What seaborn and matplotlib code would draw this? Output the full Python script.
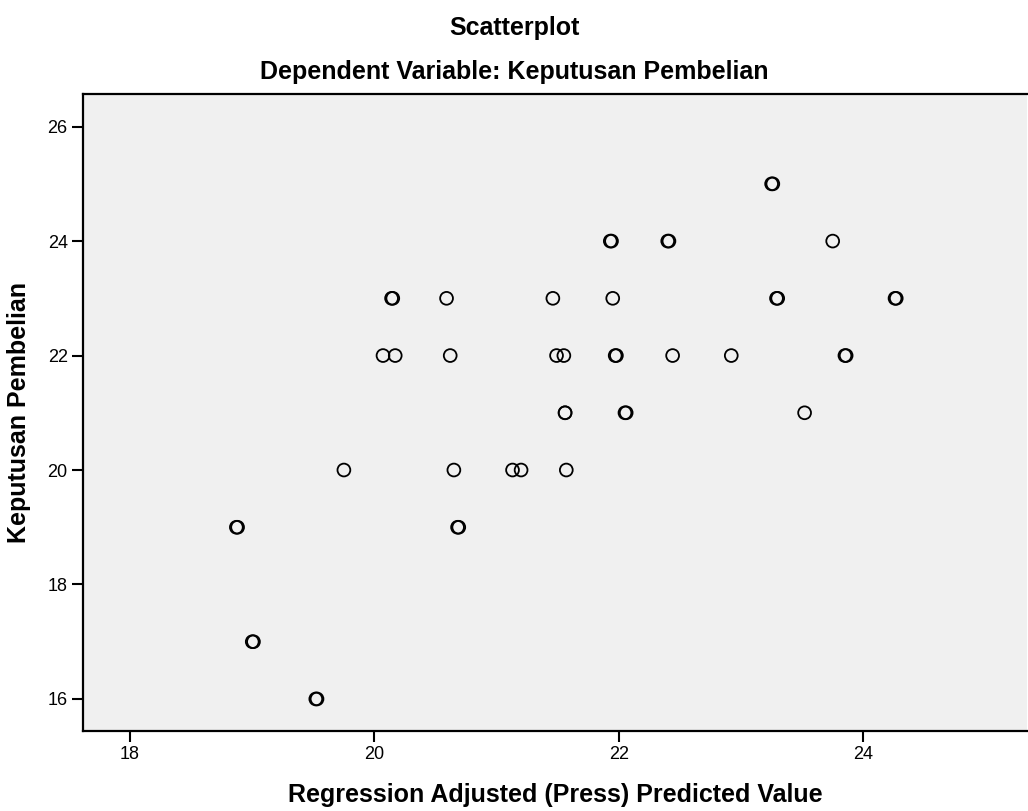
import numpy as np
import pandas as pd
import matplotlib
matplotlib.use("Agg")
import matplotlib.pyplot as plt
import seaborn as sns

# Values (doubled entries are the overlapping, bold-looking circles)
predicted = [18.87, 18.88, 19.00, 19.01, 19.52, 19.53, 19.75,
             20.07, 20.14, 20.15, 20.17, 20.59, 20.62, 20.65, 20.68, 20.69,
             21.13, 21.20, 21.46, 21.49, 21.55, 21.56, 21.56, 21.57,
             21.93, 21.94, 21.95, 21.97, 21.98, 22.05, 22.06, 22.40, 22.41, 22.44,
             22.92, 23.25, 23.26, 23.29, 23.30, 23.52, 23.75, 23.85, 23.86,
             24.26, 24.27]
keputusan = [19, 19, 17, 17, 16, 16, 20,
             22, 23, 23, 22, 23, 22, 20, 19, 19,
             20, 20, 23, 22, 22, 21, 21, 20,
             24, 24, 23, 22, 22, 21, 21, 24, 24, 22,
             22, 25, 25, 23, 23, 21, 24, 22, 22,
             23, 23]

x_ticks = [18, 20, 22, 24]
y_ticks = [16, 18, 20, 22, 24, 26]

df = pd.DataFrame({"pred": predicted, "kep": keputusan})

sns.set_style("white")
plt.rcParams['font.family'] = ['Liberation Sans', 'DejaVu Sans']
plt.rcParams['text.color'] = 'black'
plt.rcParams['axes.labelcolor'] = 'black'

fig = plt.figure(figsize=(10.28, 8.11), dpi=100)
ax = fig.add_axes([83 / 1028, 1 - 731 / 811, 944 / 1028, (731 - 94) / 811])
ax.set_facecolor("#f0f0f0")

sns.scatterplot(data=df, x="pred", y="kep", ax=ax, marker="o", s=85,
                facecolors="none", edgecolors="black", linewidth=1.3)

ax.set_xlim(17.615, 25.34)
ax.set_ylim(15.44, 26.57)
ax.set_xticks(x_ticks)
ax.set_yticks(y_ticks)
ax.tick_params(axis="both", direction="out", length=8, width=1.5,
               labelsize=13, colors="black", pad=3)
ax.tick_params(axis="x", bottom=True, top=False)
ax.tick_params(axis="y", left=True, right=False)
for side in ["left", "bottom", "top"]:
    ax.spines[side].set_visible(True)
    ax.spines[side].set_color("black")
    ax.spines[side].set_linewidth(1.6)
ax.spines["right"].set_visible(False)

ax.set_xlabel("Regression Adjusted (Press) Predicted Value", fontsize=18,
              fontweight="bold", labelpad=14)
ax.set_ylabel("Keputusan Pembelian", fontsize=18, fontweight="bold", labelpad=12)

fig.text(0.5, 1 - 28 / 811, "Scatterplot", ha="center", va="center",
         fontsize=18, fontweight="bold")
fig.text(0.5, 1 - 72 / 811, "Dependent Variable: Keputusan Pembelian",
         ha="center", va="center", fontsize=18, fontweight="bold")

fig.savefig("out.png", dpi=100)
